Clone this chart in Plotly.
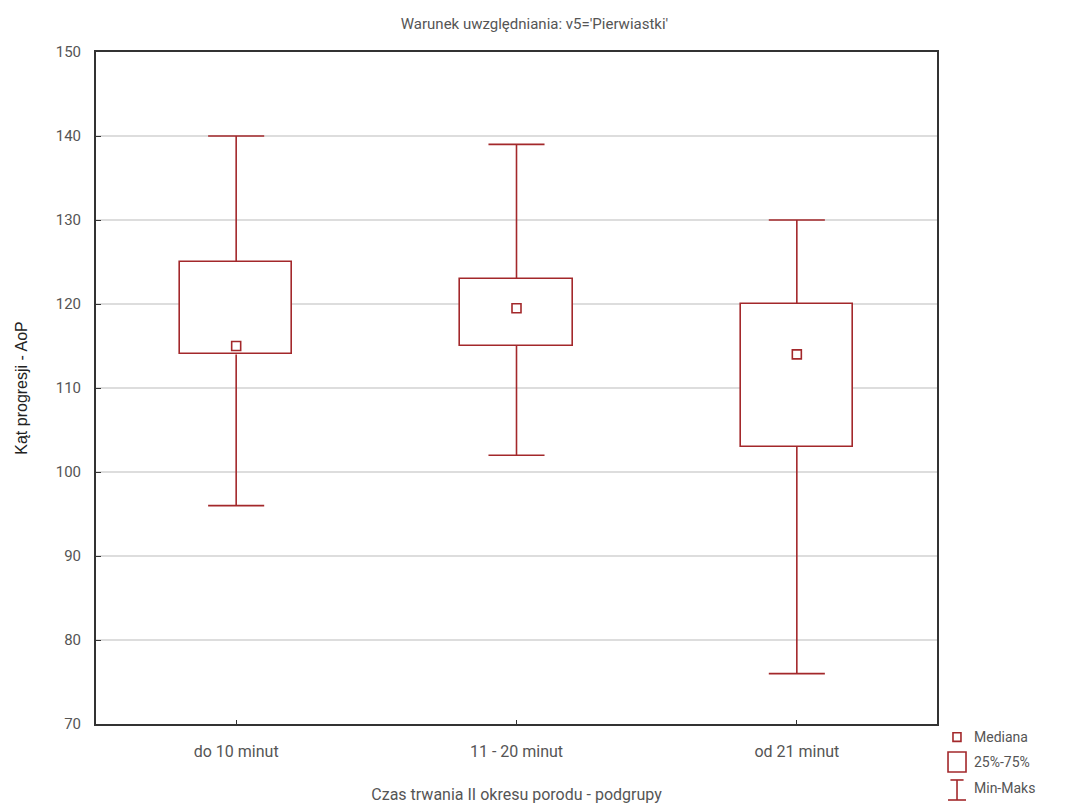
import plotly.graph_objects as go

categories = ["do 10 minut", "11 - 20 minut", "od 21 minut"]
mins = [96, 102, 76]
q1s = [114, 115, 103]
medians = [115, 119.5, 114]
q3s = [125, 123, 120]
maxs = [140, 139, 130]
y_ticks = [70, 80, 90, 100, 110, 120, 130, 140, 150]

RED = "#a3282b"
TXT = "#555555"
FONT = "Roboto"

idx = list(range(len(categories)))
box_w = 0.40
cap_w = 0.20

fig = go.Figure()

# Boxes (25%-75%)
fig.add_trace(go.Bar(
    x=idx, base=q1s, y=[b - a for a, b in zip(q1s, q3s)], width=box_w,
    marker=dict(color="white", line=dict(color=RED, width=1.6)),
    showlegend=False, hoverinfo="skip"))

# Whiskers
wx, wy = [], []
for i in idx:
    wx += [i, i, None, i, i, None]
    wy += [q3s[i], maxs[i], None, q1s[i], mins[i], None]
fig.add_trace(go.Scatter(x=wx, y=wy, mode="lines",
                         line=dict(color=RED, width=1.6),
                         showlegend=False, hoverinfo="skip"))

# Caps
cx, cy = [], []
for i in idx:
    cx += [i - cap_w / 2, i + cap_w / 2, None, i - cap_w / 2, i + cap_w / 2, None]
    cy += [maxs[i], maxs[i], None, mins[i], mins[i], None]
fig.add_trace(go.Scatter(x=cx, y=cy, mode="lines",
                         line=dict(color=RED, width=1.6),
                         showlegend=False, hoverinfo="skip"))

# Medians
fig.add_trace(go.Scatter(x=idx, y=medians, mode="markers",
                         marker=dict(symbol="square", size=9, color="white",
                                     line=dict(color=RED, width=1.6)),
                         showlegend=False, hoverinfo="skip"))

# Custom legend (paper coordinates)
shapes = [
    dict(type="rect", xref="paper", yref="paper",
         x0=1.0190, x1=1.0285, y0=-0.0130, y1=-0.0258,
         line=dict(color=RED, width=1.6), fillcolor="white"),
    dict(type="rect", xref="paper", yref="paper",
         x0=1.0131, x1=1.0345, y0=-0.0417, y1=-0.0714,
         line=dict(color=RED, width=1.6), fillcolor="white"),
    dict(type="line", xref="paper", yref="paper",
         x0=1.0238, x1=1.0238, y0=-0.0833, y1=-0.1131,
         line=dict(color=RED, width=1.6)),
    dict(type="line", xref="paper", yref="paper",
         x0=1.0160, x1=1.0316, y0=-0.0833, y1=-0.0833,
         line=dict(color=RED, width=1.6)),
    dict(type="line", xref="paper", yref="paper",
         x0=1.0131, x1=1.0345, y0=-0.1131, y1=-0.1131,
         line=dict(color=RED, width=1.6)),
]
annotations = [
    dict(text="Mediana", xref="paper", yref="paper", x=1.0416, y=-0.0193,
         xanchor="left", yanchor="middle", showarrow=False,
         font=dict(family=FONT, size=14, color=TXT)),
    dict(text="25%-75%", xref="paper", yref="paper", x=1.0416, y=-0.0565,
         xanchor="left", yanchor="middle", showarrow=False,
         font=dict(family=FONT, size=14, color=TXT)),
    dict(text="Min-Maks", xref="paper", yref="paper", x=1.0416, y=-0.0952,
         xanchor="left", yanchor="middle", showarrow=False,
         font=dict(family=FONT, size=14, color=TXT)),
]

fig.update_layout(
    width=1069, height=804,
    margin=dict(l=96, r=132, t=52, b=80, autoexpand=False),
    paper_bgcolor="white", plot_bgcolor="white",
    title=dict(text="Warunek uwzględniania: v5='Pierwiastki'",
               x=0.5, xanchor="center", y=0.970, yanchor="middle",
               font=dict(family=FONT, size=15, color=TXT)),
    shapes=shapes, annotations=annotations,
    showlegend=False,
    bargap=0,
)

fig.update_xaxes(
    range=[-0.5, 2.5], tickmode="array", tickvals=idx, ticktext=categories,
    showgrid=False, zeroline=False, automargin=False,
    showline=True, linecolor="#333333", linewidth=2, mirror=True,
    ticks="inside", ticklen=4, tickcolor="#333333",
    ticklabelstandoff=12,
    tickfont=dict(family=FONT, size=16, color=TXT),
    title=dict(text="Czas trwania II okresu porodu - podgrupy",
               font=dict(family=FONT, size=16, color=TXT), standoff=30),
)
fig.update_yaxes(
    range=[70, 150], tickmode="array", tickvals=y_ticks,
    showgrid=True, gridcolor="#dddddd", gridwidth=1.5, zeroline=False,
    automargin=False,
    showline=True, linecolor="#333333", linewidth=2, mirror=True,
    ticks="inside", ticklen=5, tickcolor="#333333",
    ticklabelstandoff=10,
    tickfont=dict(family=FONT, size=15, color=TXT),
    title=dict(text="Kąt progresji - AoP",
               font=dict(family="Liberation Sans", size=16, color="#222222"),
               standoff=24),
)

fig.write_html("out.html", config={"displayModeBar": False},
               post_script="document.body.style.margin='0';document.body.style.padding='0';")
